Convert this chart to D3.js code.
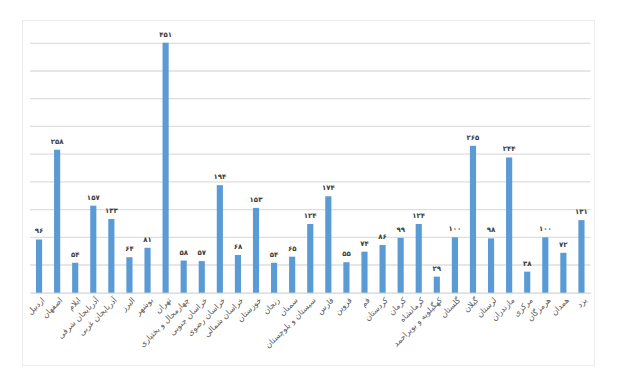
<!DOCTYPE html>
<html>
<head>
<meta charset="utf-8">
<script src="https://cdn.jsdelivr.net/npm/d3@7"></script>
<style>
  body { margin: 0; background: #fff; }
  svg { display: block; font-family: "DejaVu Sans", "Noto Sans", sans-serif; }
</style>
</head>
<body>
<div id="chart"></div>
<script>
const provinces = ["اردبیل", "اصفهان", "ایلام", "آذربایجان شرقی", "آذربایجان غربی", "البرز", "بوشهر", "تهران",
  "چهارمحال و بختیاری", "خراسان جنوبی", "خراسان رضوی", "خراسان شمالی", "خوزستان", "زنجان", "سمنان",
  "سیستان و بلوچستان", "فارس", "قزوین", "قم", "کردستان", "کرمان", "کرمانشاه", "کهگیلویه و بویراحمد",
  "گلستان", "گیلان", "لرستان", "مازندران", "مرکزی", "هرمزگان", "همدان", "یزد"];
const counts = [96, 258, 54, 157, 133, 64, 81, 451, 58, 57, 194, 68, 153, 54, 65,
  124, 174, 55, 74, 86, 99, 124, 29, 100, 265, 98, 244, 38, 100, 72, 131];
const gridValues = [0, 50, 100, 150, 200, 250, 300, 350, 400, 450];

const data = provinces.map((p, i) => ({name: p, value: counts[i]}));

const W = 620, H = 371;
const svg = d3.select("#chart").append("svg")
  .attr("width", W).attr("height", H);

// light frame around the chart
svg.append("rect")
  .attr("x", 22.5).attr("y", 20.5)
  .attr("width", 572).attr("height", 345)
  .attr("fill", "#fff")
  .attr("stroke", "#ececec");

const x = d3.scaleBand()
  .domain(provinces)
  .range([30, 590.5])
  .paddingInner(0.66)
  .paddingOuter(0.33);

const y = d3.scaleLinear()
  .domain([0, 450])
  .range([292.7, 43.3]);

const fa = d => String(d).replace(/\d/g, c => "۰۱۲۳۴۵۶۷۸۹"[c]);

// gridlines
svg.append("g")
  .selectAll("line")
  .data(gridValues.slice(1))
  .enter().append("line")
  .attr("x1", 30).attr("x2", 590.5)
  .attr("y1", d => y(d)).attr("y2", d => y(d))
  .attr("stroke", "#dedede")
  .attr("stroke-width", 1.3);

// baseline axis
svg.append("g")
  .attr("transform", `translate(0,${y(0)})`)
  .call(d3.axisBottom(x).tickSize(0).tickFormat(""))
  .call(g => g.select(".domain").attr("stroke", "#d4d4d4").attr("stroke-width", 1.3));

svg.selectAll(".bar")
  .data(data)
  .enter().append("rect")
  .attr("class", "bar")
  .attr("x", d => x(d.name))
  .attr("y", d => y(d.value))
  .attr("width", x.bandwidth())
  .attr("height", d => y(0) - y(d.value))
  .attr("fill", "#5b9bd5");

svg.selectAll(".label")
  .data(data)
  .enter().append("text")
  .attr("class", "label")
  .attr("x", d => x(d.name) + x.bandwidth() / 2)
  .attr("y", d => y(d.value) - 6)
  .attr("text-anchor", "middle")
  .style("font-size", "7px")
  .style("font-weight", "bold")
  .style("fill", "#404040")
  .text(d => fa(d.value));

svg.selectAll(".cat")
  .data(data)
  .enter().append("text")
  .attr("class", "cat")
  .attr("transform", d => `translate(${x(d.name) + x.bandwidth() / 2 + 4},${y(0) + 6}) rotate(-45)`)
  .attr("text-anchor", "end")
  .attr("dy", "0.35em")
  .style("font-size", "8px")
  .style("fill", "#595959")
  .text(d => d.name);
</script>
</body>
</html>
